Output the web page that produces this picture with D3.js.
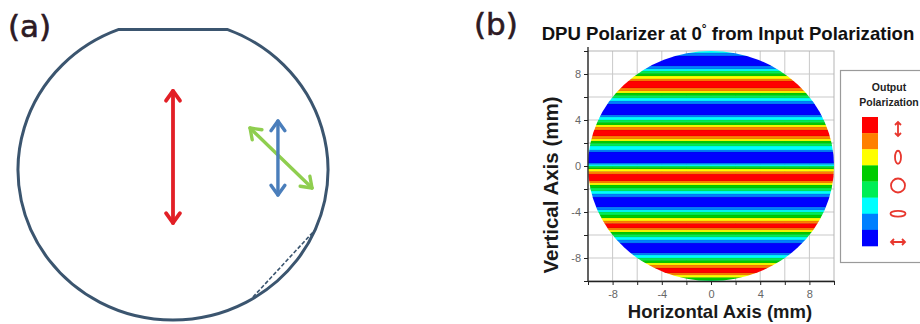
<!DOCTYPE html>
<html><head><meta charset="utf-8">
<script src="https://cdn.jsdelivr.net/npm/d3@7"></script>
<style>html,body{margin:0;padding:0;background:#fff}svg{display:block}</style>
</head><body>
<svg id="c" width="920" height="324"></svg>
<script>
// ---------- Panel (a) diagram data (wafer units, radius = 1) ----------
const waferFlatY = 0.937;
const redArrow = [[0, 0.527], [0, -0.353]];
const blueArrow = [[0.677, 0.327], [0.677, -0.167]];
const greenArrow = [[0.497, 0.28], [0.897, -0.12]];
const dashedChord = [[0.516, -0.847], [0.916, -0.40]];

// ---------- Panel (b) data ----------
const xTicks = [-8, -4, 0, 4, 8];
const yTicks = [-8, -4, 0, 4, 8];
const gridVals = [-8, -6, -4, -2, 0, 2, 4, 6, 8];
// upper edge (mm) of each horizontal band, top to bottom; last value = bottom edge
const stripeEdges = [10.0, 9.83, 9.57, 8.70, 8.43, 8.26, 8.04, 7.83, 7.57, 7.39,
  6.78, 6.52, 6.35, 6.13, 5.91, 5.65, 5.39, 4.43, 4.26, 4.00,
  3.78, 3.57, 3.39, 3.13, 2.61, 2.35, 2.17, 1.96, 1.74, 1.39,
  1.22, 0.26, 0.13, 0.00, -0.13, -0.26, -0.48, -0.70, -1.30, -1.48,
  -1.65, -1.91, -2.17, -2.43, -2.70, -3.57, -3.83, -4.00, -4.26, -4.52,
  -4.78, -5.00, -5.39, -5.57, -5.74, -5.96, -6.17, -6.43, -6.70, -7.57,
  -7.74, -8.00, -8.22, -8.43, -8.61, -8.87, -9.30, -9.48, -9.70, -9.91, -10.0];
// output polarization level of each band (0 = vertical linear ... 7 = horizontal linear)
const stripeLevels = [5,6,7,6,5,4,3,2,1,0, 1,2,3,4,5,6,7,6,5,4,
  3,2,1,0,1,2,3,4,5,6, 7,6,5,4,3,2,1,0,1,2,
  3,4,5,6,7,6,5,4,3,2, 1,0,1,2,3,4,5,6,7,6,
  5,4,3,2,1,0,1,2,3,4];
const levelColors = ["#ff0000","#ff8000","#ffff00","#00cc00","#00ee55","#00ffff","#0080ff","#0000ff"];
const legendSymbols = ["vlin","vell","circ","hell","hlin"];

const svg = d3.select("#c");

// ================= Panel (a) =================
const xA = d3.scaleLinear().domain([-1, 1]).range([18, 328]);
const yA = d3.scaleLinear().domain([-1, 1]).range([320, 20]);
const gA = svg.append("g");
gA.append("text").attr("x", 8).attr("y", 37).text("(a)")
  .attr("font-family", "DejaVu Sans, Verdana, sans-serif").attr("font-size", 31)
  .attr("fill", "#2d1a24").attr("stroke", "#2d1a24").attr("stroke-width", 0.6);

// wafer outline with a flat
{
  const rx = xA(1) - xA(0), ry = yA(0) - yA(1);
  const hx = Math.sqrt(1 - waferFlatY * waferFlatY);
  const x1 = xA(hx), x0 = xA(-hx), yf = yA(waferFlatY);
  const p = `M${x1},${yf} A${rx},${ry} 0 1 1 ${x0},${yf} Z`;
  gA.append("path").attr("d", p).attr("fill", "none").attr("stroke", "#3b556f").attr("stroke-width", 3);
  gA.append("line").attr("x1", xA(dashedChord[0][0])).attr("y1", yA(dashedChord[0][1]))
    .attr("x2", xA(dashedChord[1][0])).attr("y2", yA(dashedChord[1][1]))
    .attr("stroke", "#3b556f").attr("stroke-width", 1.6).attr("stroke-dasharray", "4,2");
}
function drawArrow(g, pts, color, w) {
  const [a, b] = pts.map(p => [xA(p[0]), yA(p[1])]);
  g.append("line").attr("x1", a[0]).attr("y1", a[1]).attr("x2", b[0]).attr("y2", b[1])
    .attr("stroke", color).attr("stroke-width", w).attr("stroke-linecap", "round");
  const ang = Math.atan2(b[1] - a[1], b[0] - a[0]);
  const L = 12, spread = 0.62;
  [[a, ang], [b, ang + Math.PI]].forEach(([tip, th]) => {
    const p1 = [tip[0] + L * Math.cos(th + spread), tip[1] + L * Math.sin(th + spread)];
    const p2 = [tip[0] + L * Math.cos(th - spread), tip[1] + L * Math.sin(th - spread)];
    g.append("path").attr("d", `M${p1[0]},${p1[1]} L${tip[0]},${tip[1]} L${p2[0]},${p2[1]}`)
      .attr("fill", "none").attr("stroke", color).attr("stroke-width", w)
      .attr("stroke-linecap", "round").attr("stroke-linejoin", "round");
  });
}
drawArrow(gA, redArrow, "#e21f26", 3.8);
drawArrow(gA, greenArrow, "#8fce4f", 3.4);
drawArrow(gA, blueArrow, "#4a7ebb", 3.4);

// ================= Panel (b) =================
svg.append("text").attr("x", 474).attr("y", 35).text("(b)")
  .attr("font-family", "DejaVu Sans, Verdana, sans-serif").attr("font-size", 31)
  .attr("fill", "#2d1a24").attr("stroke", "#2d1a24").attr("stroke-width", 0.6);

const x = d3.scaleLinear().domain([-10, 10]).range([588, 834]);
const y = d3.scaleLinear().domain([-10, 10]).range([281, 51]);
const gB = svg.append("g");

// title
const title = svg.append("text").attr("x", 728).attr("y", 40).attr("text-anchor", "middle")
  .attr("font-family", "Liberation Sans, Arial, sans-serif").attr("font-weight", "bold")
  .attr("font-size", 18.6).attr("fill", "#111");
title.append("tspan").text("DPU Polarizer at 0");
title.append("tspan").attr("dy", -7).attr("font-size", 12).text("°");
title.append("tspan").attr("dy", 7).text(" from Input Polarization");

// grid
gB.append("g").selectAll("line.v").data(gridVals).join("line")
  .attr("x1", d => x(d)).attr("x2", d => x(d)).attr("y1", y(10)).attr("y2", y(-10))
  .attr("stroke", "#c9c9c9").attr("stroke-width", 1);
gB.append("g").selectAll("line.h").data(gridVals).join("line")
  .attr("y1", d => y(d)).attr("y2", d => y(d)).attr("x1", x(-10)).attr("x2", x(10))
  .attr("stroke", "#c9c9c9").attr("stroke-width", 1);
gB.append("rect").attr("x", x(-10)).attr("y", y(10)).attr("width", x(10) - x(-10)).attr("height", y(-10) - y(10))
  .attr("fill", "none").attr("stroke", "#b5b5b5");

// stripes clipped to the aperture
const defs = svg.append("defs");
defs.append("clipPath").attr("id", "ap").append("ellipse")
  .attr("cx", x(0)).attr("cy", y(0)).attr("rx", x(10) - x(0)).attr("ry", y(0) - y(10));
const bands = stripeLevels.map((lv, i) => ({top: stripeEdges[i], bot: stripeEdges[i + 1], lv}));
const gs = gB.append("g").attr("clip-path", "url(#ap)");
gs.selectAll("rect").data(bands).join("rect")
  .attr("x", x(-10)).attr("width", x(10) - x(-10))
  .attr("y", d => y(d.top)).attr("height", d => y(d.bot) - y(d.top) + 0.3)
  .attr("fill", d => levelColors[d.lv]);
gs.selectAll("line").data(bands.slice(1)).join("line")
  .attr("x1", x(-10)).attr("x2", x(10)).attr("y1", d => y(d.top)).attr("y2", d => y(d.top))
  .attr("stroke", "#000").attr("stroke-opacity", 0.18).attr("stroke-width", 0.6);

// axes
const tickFont = g => g.selectAll("text").attr("font-family", "Liberation Sans, Arial, sans-serif")
  .attr("font-size", 11).attr("fill", "#666");
const xAxis = gB.append("g").attr("transform", `translate(0,${y(-10)})`)
  .call(d3.axisBottom(x).tickValues(gridVals.concat([-10, 10])).tickSize(4).tickSizeOuter(0)
    .tickFormat(d => xTicks.includes(d) ? d : ""));
const yAxis = gB.append("g").attr("transform", `translate(${x(-10)},0)`)
  .call(d3.axisLeft(y).tickValues(gridVals.concat([-10, 10])).tickSize(4).tickSizeOuter(0)
    .tickFormat(d => yTicks.includes(d) ? d : ""));
[xAxis, yAxis].forEach(a => {
  a.select(".domain").attr("stroke", "#222").attr("stroke-width", 1.3);
  a.selectAll(".tick line").attr("stroke", "#222");
  a.call(tickFont);
});
xAxis.selectAll("text").attr("dy", "0.95em");
yAxis.select(".domain").attr("d", `M0,${y(10) - 4}V${y(-10)}`);

// axis titles
svg.append("text").attr("x", 720).attr("y", 318).attr("text-anchor", "middle")
  .attr("font-family", "Liberation Sans, Arial, sans-serif").attr("font-weight", "bold")
  .attr("font-size", 18.5).attr("fill", "#1a1a1a").text("Horizontal Axis (mm)");
svg.append("text").attr("transform", "translate(558,185) rotate(-90)").attr("text-anchor", "middle")
  .attr("font-family", "Liberation Sans, Arial, sans-serif").attr("font-weight", "bold")
  .attr("font-size", 20.5).attr("fill", "#1a1a1a").text("Vertical Axis (mm)");

// legend
const gl = svg.append("g");
gl.append("rect").attr("x", 840.5).attr("y", 70.5).attr("width", 100).attr("height", 192)
  .attr("fill", "#fff").attr("stroke", "#9a9a9a").attr("stroke-width", 1.2);
["Output", "Polarization"].forEach((t, i) => gl.append("text").attr("x", 889).attr("y", 91 + i * 15)
  .attr("text-anchor", "middle").attr("font-family", "Liberation Sans, Arial, sans-serif")
  .attr("font-weight", "bold").attr("font-size", 10.5).attr("fill", "#222").text(t));
const ls = d3.scaleBand().domain(d3.range(levelColors.length)).range([117, 246]);
gl.selectAll("rect.sw").data(levelColors).join("rect").attr("class", "sw")
  .attr("x", 862).attr("width", 16).attr("y", (d, i) => ls(i)).attr("height", ls.bandwidth() + 0.3)
  .attr("fill", d => d);
const symY = d3.scalePoint().domain(legendSymbols).range([129, 242]);
const red = "#e8372e";
legendSymbols.forEach(s => {
  const cy = symY(s), cx = 898;
  if (s === "vlin" || s === "hlin") {
    const v = s === "vlin";
    const L = 7, h = 3;
    const d = v
      ? `M${cx},${cy - L}V${cy + L} M${cx - h},${cy - L + h}L${cx},${cy - L}L${cx + h},${cy - L + h} M${cx - h},${cy + L - h}L${cx},${cy + L}L${cx + h},${cy + L - h}`
      : `M${cx - L},${cy}H${cx + L} M${cx - L + h},${cy - h}L${cx - L},${cy}L${cx - L + h},${cy + h} M${cx + L - h},${cy - h}L${cx + L},${cy}L${cx + L - h},${cy + h}`;
    gl.append("path").attr("d", d).attr("fill", "none").attr("stroke", red).attr("stroke-width", 1.8);
  } else {
    const rx = s === "vell" ? 3 : (s === "circ" ? 7 : 7.5);
    const ry = s === "vell" ? 6.5 : (s === "circ" ? 7 : 2.8);
    gl.append("ellipse").attr("cx", cx).attr("cy", cy).attr("rx", rx).attr("ry", ry)
      .attr("fill", "none").attr("stroke", red).attr("stroke-width", 1.8);
  }
});
</script>
</body></html>
